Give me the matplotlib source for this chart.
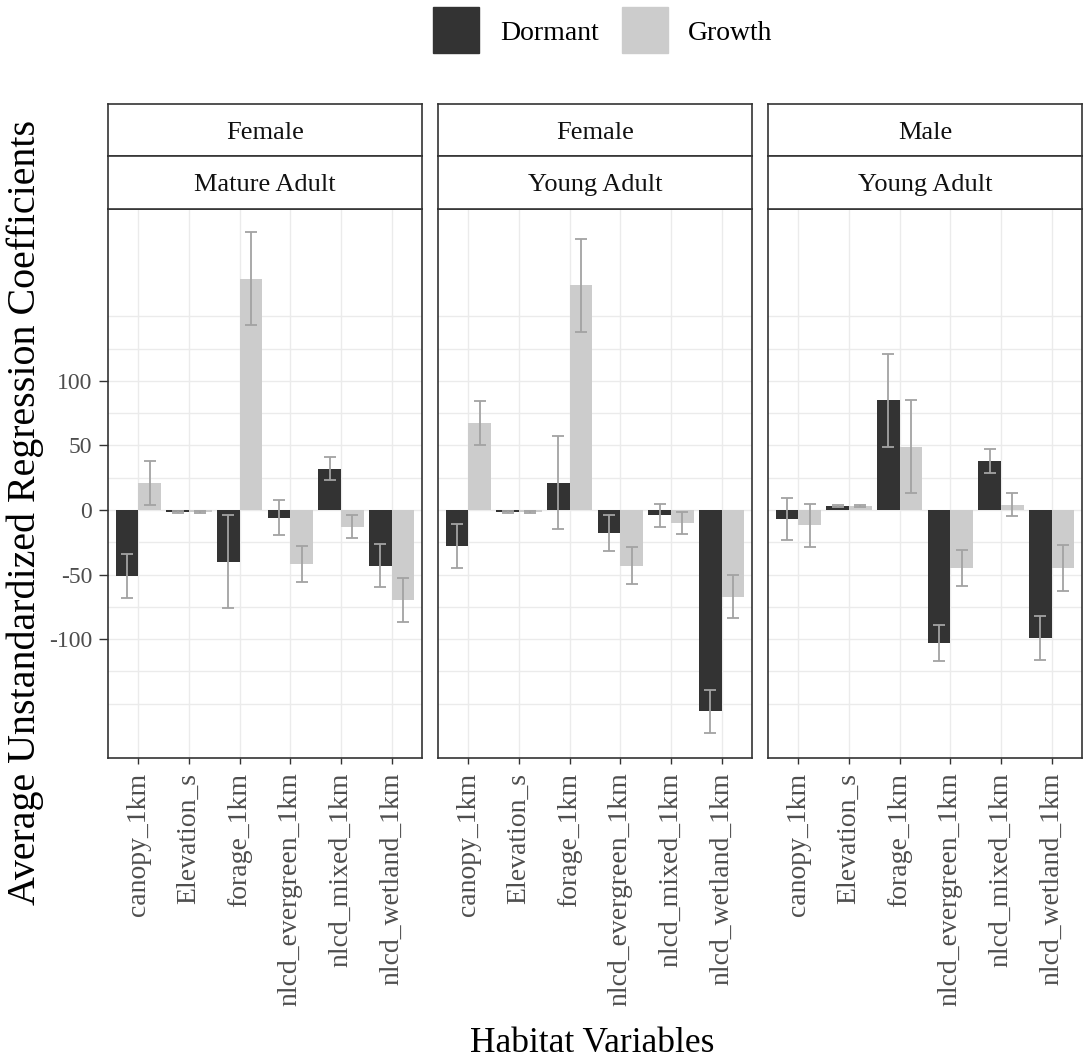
import numpy as np
import matplotlib
matplotlib.use("Agg")
import matplotlib.pyplot as plt
from matplotlib.patches import Rectangle

# Habitat variables on the x axis
variables = ["canopy_1km", "Elevation_s", "forage_1km",
             "nlcd_evergreen_1km", "nlcd_mixed_1km", "nlcd_wetland_1km"]

# Facet labels (sex, age class)
sex_labels = ["Female", "Female", "Male"]
age_labels = ["Mature Adult", "Young Adult", "Young Adult"]

# Mean coefficients per panel, dormant season
dormant_mean = [
    [-51, -1.5, -40, -6, 32, -43],
    [-28, -1.5, 21, -18, -4, -156],
    [-7, 3, 85, -103, 38, -99],
]
dormant_se = [
    [17, 0.8, 36, 13.5, 9, 17],
    [17, 0.8, 36, 14, 9, 17],
    [16, 1.0, 36, 14, 9, 17],
]

# Mean coefficients per panel, growth season
growth_mean = [
    [21, -1.5, 179, -42, -13, -70],
    [67, -1.5, 174, -43, -10, -67],
    [-12, 3, 49, -45, 4, -45],
]
growth_se = [
    [17, 0.8, 36, 14, 9, 17],
    [17, 0.8, 36, 14, 8.5, 17],
    [17, 0.5, 36, 14, 9, 18],
]

plt.rcParams['font.family'] = ['Liberation Serif', 'DejaVu Serif']

W, H = 1085, 1062
fig = plt.figure(figsize=(W / 100, H / 100), dpi=100)

dark = "#333333"
light = "#cccccc"
err_col = "#a3a3a3"
grid_col = "#ebebeb"

panel_x = [(108, 422), (438, 752), (768, 1082)]
panel_top, panel_bot = 209, 758
strip_top, strip_mid = 104, 156

x = np.arange(1, len(variables) + 1)
bw = 0.45

for i, (x0, x1) in enumerate(panel_x):
    ax = fig.add_axes([x0 / W, (H - panel_bot) / H, (x1 - x0) / W,
                       (panel_bot - panel_top) / H])
    # background grid every 25 units, plus one line per variable
    for gy in np.arange(-150, 151, 25):
        ax.axhline(gy, color=grid_col, lw=1.0, zorder=0)
    for gx in x:
        ax.axvline(gx, color=grid_col, lw=1.0, zorder=0)

    ax.bar(x - bw / 2, dormant_mean[i], width=bw, color=dark, zorder=2)
    ax.bar(x + bw / 2, growth_mean[i], width=bw, color=light, zorder=2)
    ax.errorbar(x - bw / 2, dormant_mean[i], yerr=dormant_se[i], fmt="none",
                ecolor=err_col, elinewidth=1.3, capsize=4, capthick=1.3, zorder=3)
    ax.errorbar(x + bw / 2, growth_mean[i], yerr=growth_se[i], fmt="none",
                ecolor=err_col, elinewidth=1.3, capsize=4, capthick=1.3, zorder=3)

    ax.set_xlim(0.4, 6.6)
    ax.set_ylim(-192, 233)
    ax.set_xticks(x)
    ax.set_xticklabels(variables, rotation=90, fontsize=20, color="#4d4d4d")
    ax.set_yticks([-100, -50, 0, 50, 100])
    if i == 0:
        ax.set_yticklabels(["-100", "-50", "0", "50", "100"], fontsize=17,
                           color="#4d4d4d")
    else:
        ax.tick_params(axis="y", left=False, labelleft=False)
    ax.tick_params(axis="x", length=4.5, width=1, color="#333333", pad=6)
    ax.tick_params(axis="y", length=6.5, width=1, color="#333333", pad=5)
    for s in ax.spines.values():
        s.set_color("#333333")
        s.set_linewidth(1.2)

    # two stacked strips on top of each panel
    for (t, b), lab in [((strip_top, strip_mid), sex_labels[i]),
                        ((strip_mid, panel_top), age_labels[i])]:
        sax = fig.add_axes([x0 / W, (H - b) / H, (x1 - x0) / W, (b - t) / H])
        sax.set_xticks([])
        sax.set_yticks([])
        for s in sax.spines.values():
            s.set_color("#333333")
            s.set_linewidth(1.2)
        sax.text(0.5, 0.45, lab, ha="center", va="center", fontsize=19,
                 color="#111111", transform=sax.transAxes)

# axis titles
fig.text(25 / W, 1 - 512 / H, "Average Unstandardized Regression Coefficients",
         rotation=90, ha="center", va="center", fontsize=28.8)
fig.text(592 / W, 1 - 1043 / H, "Habitat Variables", ha="center", va="center",
         fontsize=25.5)

# legend at the top
fig.patches.append(Rectangle((433 / W, 1 - 53 / H), 46 / W, 46 / H,
                             transform=fig.transFigure, color=dark))
fig.text(500 / W, 1 - 33 / H, "Dormant", ha="left", va="center", fontsize=20)
fig.patches.append(Rectangle((622 / W, 1 - 53 / H), 46 / W, 46 / H,
                             transform=fig.transFigure, color=light))
fig.text(688 / W, 1 - 33 / H, "Growth", ha="left", va="center", fontsize=20)

fig.savefig("out.png", dpi=100)
